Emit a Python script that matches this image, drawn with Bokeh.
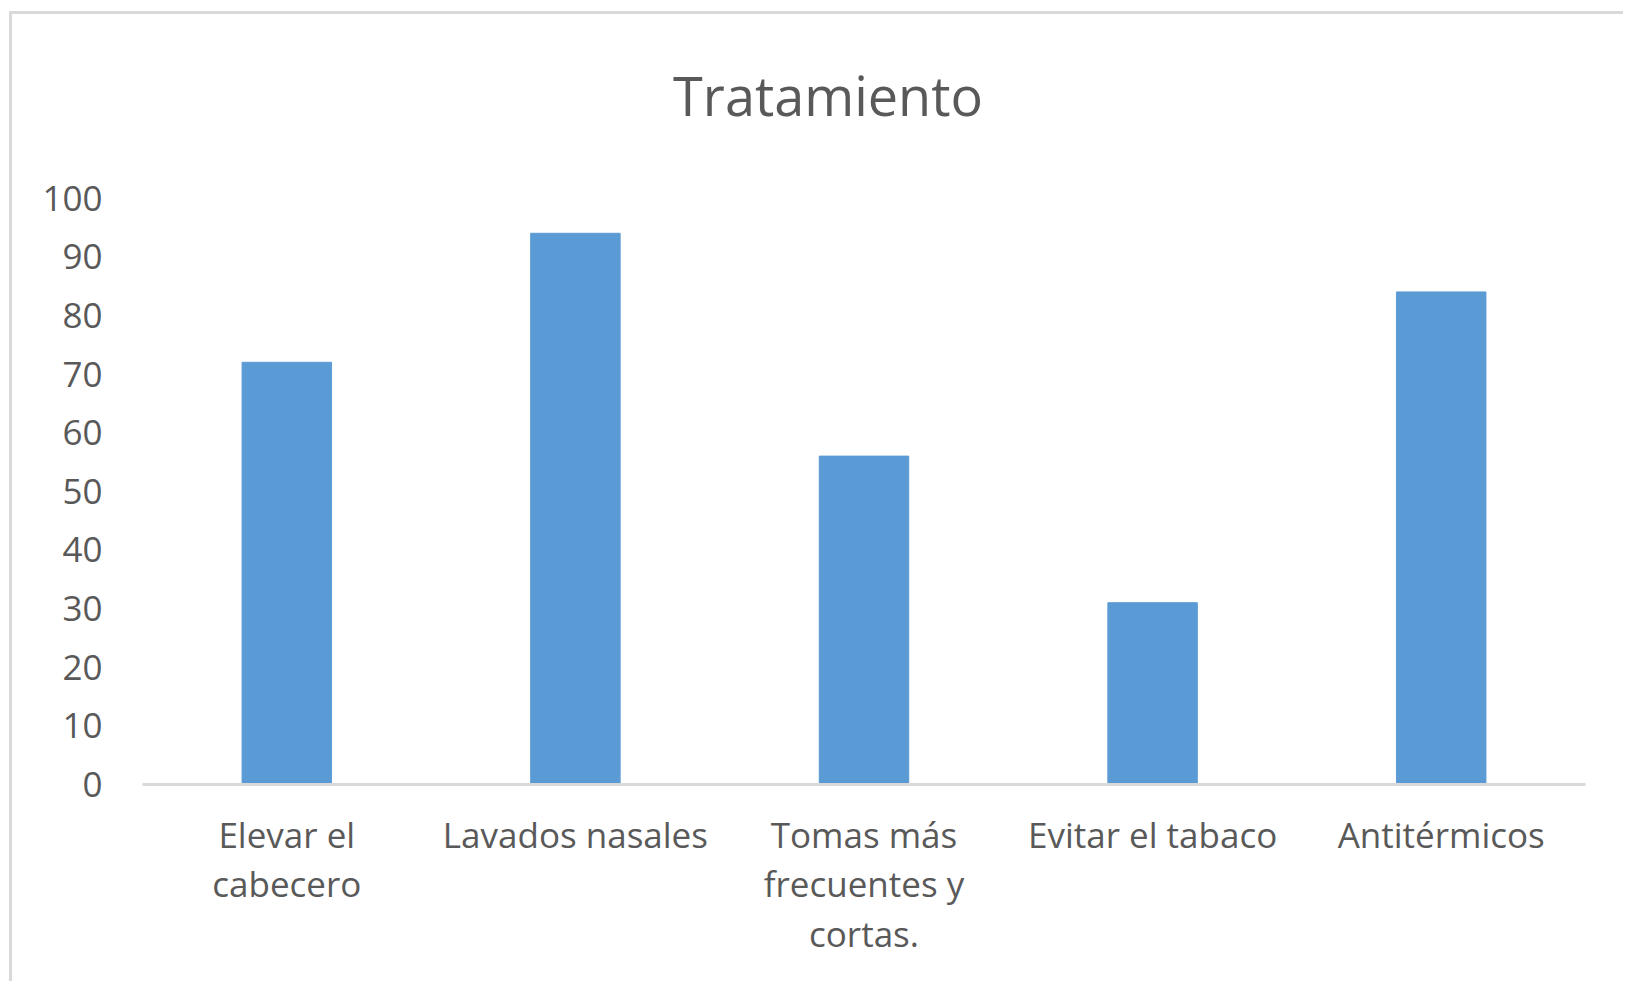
from bokeh.plotting import figure
from bokeh.models import FactorRange, Range1d, Label, FixedTicker
from bokeh.embed import file_html
from bokeh.resources import INLINE

categories = ["Elevar el\ncabecero", "Lavados nasales", "Tomas más\nfrecuentes y\ncortas.",
              "Evitar el tabaco", "Antitérmicos"]
values = [72, 94, 56, 31, 84]
y_ticks = [0, 10, 20, 30, 40, 50, 60, 70, 80, 90, 100]
title_text = "Tratamiento"

FONT = "Open Sans"
GRAY = "#595959"

# y range extends above the axis maximum (100) so the title can sit inside the frame
p = figure(x_range=FactorRange(*categories), y_range=Range1d(0, 125),
           width=1614, height=970, output_backend="svg", toolbar_location=None,
           min_border_left=130, min_border_right=41, min_border_top=37, min_border_bottom=200,
           styles={"margin-left": "9px", "margin-top": "11px",
                   "border-left": "3px solid #d9d9d9", "border-top": "3px solid #d9d9d9"})

p.vbar(x=categories, top=values, width=0.31, color="#5B9BD5", line_color="#5B9BD5")

title_label = Label(x=len(categories) / 2, y=max(y_ticks), x_offset=-36, y_offset=103,
                    text=title_text, text_font=FONT, text_font_size="54px", text_color=GRAY,
                    text_align="center", text_baseline="alphabetic")
p.add_layout(title_label)
p.title.visible = False

p.outline_line_color = None
p.xgrid.grid_line_color = None
p.ygrid.grid_line_color = None

p.yaxis.ticker = FixedTicker(ticks=y_ticks)
p.yaxis.axis_line_color = None
p.yaxis.major_tick_line_color = None
p.yaxis.minor_tick_line_color = None
p.yaxis.major_label_text_font = FONT
p.yaxis.major_label_text_font_size = "35px"
p.yaxis.major_label_text_color = GRAY
p.yaxis.major_label_standoff = 34

p.xaxis.axis_line_color = "#d9d9d9"
p.xaxis.axis_line_width = 3
p.xaxis.major_tick_line_color = None
p.xaxis.minor_tick_line_color = None
p.xaxis.major_label_text_font = FONT
p.xaxis.major_label_text_font_size = "35px"
p.xaxis.major_label_text_color = GRAY
p.xaxis.major_label_text_line_height = 1.06
p.xaxis.major_label_standoff = 20
p.xaxis.major_label_orientation = "horizontal"

open("out.html", "w").write(file_html(p, INLINE))
